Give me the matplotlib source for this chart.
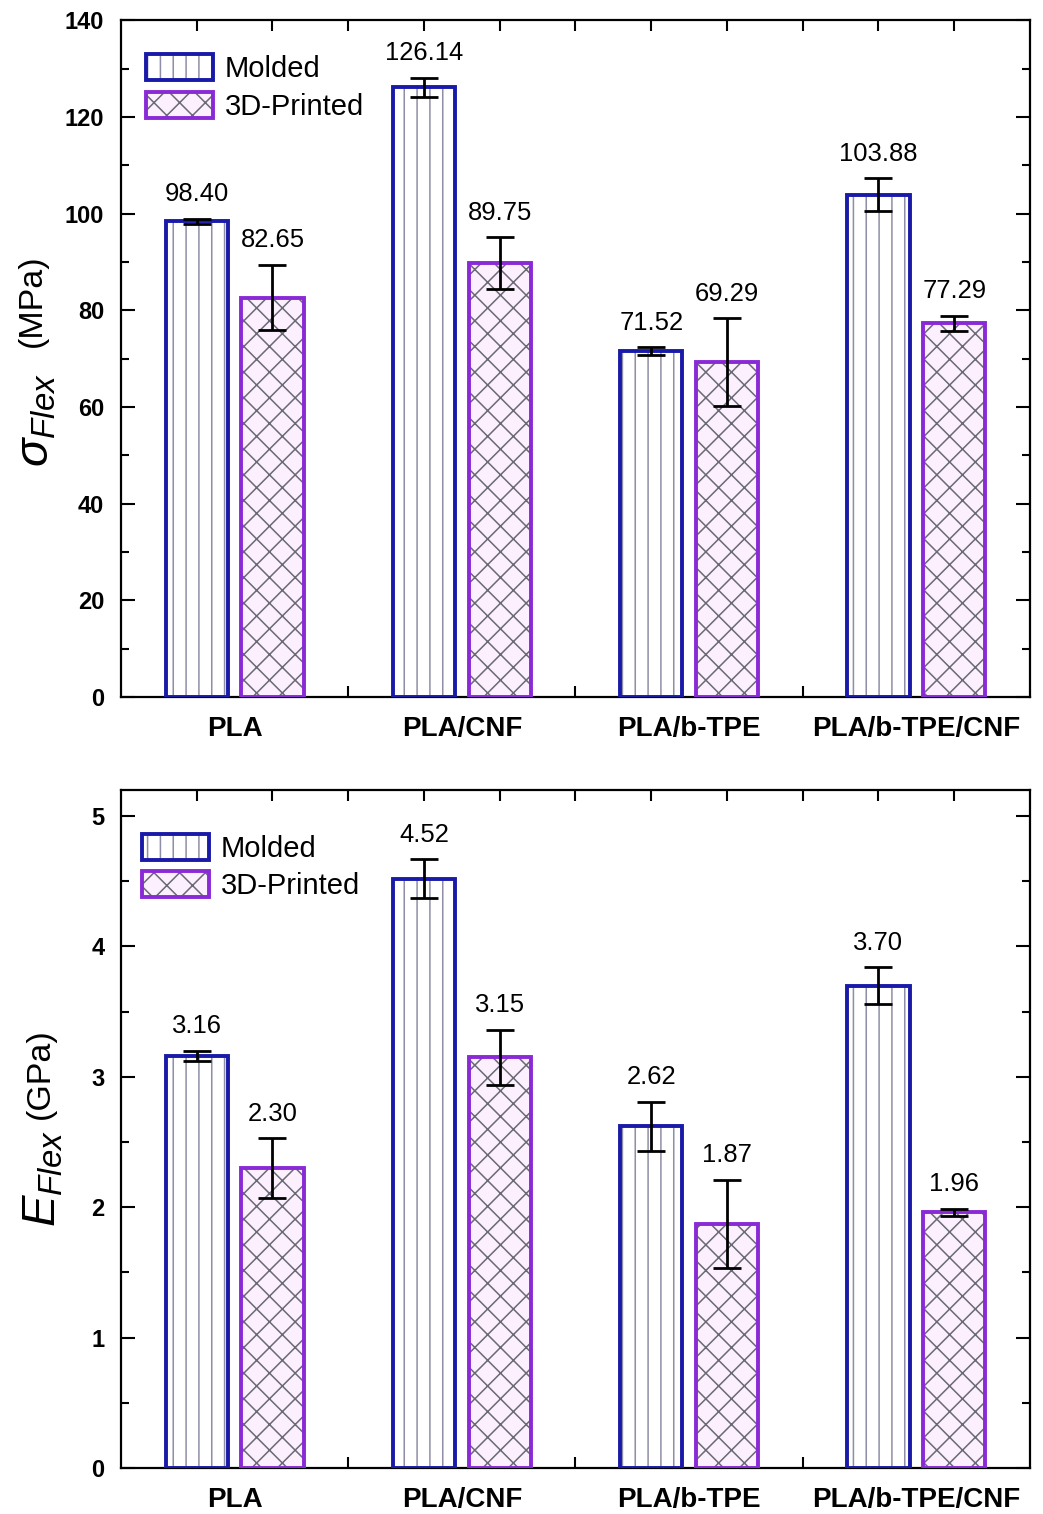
import matplotlib.pyplot as plt
from matplotlib.patches import Patch
from matplotlib.ticker import MultipleLocator, FixedLocator
from matplotlib.legend_handler import HandlerTuple

# low dpi so the hatch spacing (6 lines/inch) gets as tight as in the original;
# every size in points is scaled by k to keep pixel sizes
DPI = 77
k = 100 / DPI

plt.rcParams['font.family'] = ['Liberation Sans', 'DejaVu Sans']
plt.rcParams['mathtext.fontset'] = 'custom'
plt.rcParams['mathtext.rm'] = 'Liberation Sans'
plt.rcParams['mathtext.it'] = 'Liberation Sans:italic'
plt.rcParams['hatch.linewidth'] = 1.1 * k

materials = ['PLA', 'PLA/CNF', 'PLA/b-TPE', 'PLA/b-TPE/CNF']
series = ['Molded', '3D-Printed']

strength_molded = [98.40, 126.14, 71.52, 103.88]
strength_molded_err = [0.5, 2.0, 0.8, 3.4]
strength_printed = [82.65, 89.75, 69.29, 77.29]
strength_printed_err = [6.8, 5.4, 9.1, 1.6]

modulus_molded = [3.16, 4.52, 2.62, 3.70]
modulus_molded_err = [0.04, 0.15, 0.19, 0.14]
modulus_printed = [2.30, 3.15, 1.87, 1.96]
modulus_printed_err = [0.23, 0.21, 0.34, 0.03]

blue = '#1a1aa8'
purple = '#8a2ad6'
pink = '#fcf0ff'
grey_v = '#8e8ea6'
grey_x = '#6a6a74'

x_mold = [3 * i for i in range(len(materials))]
x_print = [3 * i + 1 for i in range(len(materials))]
x_lab = [3 * i + 0.5 for i in range(len(materials))]
w = 0.82


def draw(ax, molded, merr, printed, perr, ymax, major, minor, lab1, lab2,
         lx, ly1, ly2, anchor):
    # hatch layer, then outline on top
    ax.bar(x_mold, molded, w, color='white', edgecolor=grey_v, hatch='|', lw=0, zorder=2)
    ax.bar(x_mold, molded, w, fill=False, edgecolor=blue, lw=2.8 * k, zorder=3)
    ax.bar(x_print, printed, w, color=pink, edgecolor=grey_x, hatch='x', lw=0, zorder=2)
    ax.bar(x_print, printed, w, fill=False, edgecolor=purple, lw=2.8 * k, zorder=3)
    for xs, vals, errs in [(x_mold, molded, merr), (x_print, printed, perr)]:
        ax.errorbar(xs, vals, yerr=errs, fmt='none', ecolor='black', elinewidth=2.0 * k,
                    capsize=10 * k, capthick=2.0 * k, zorder=4)
        for x, v, e in zip(xs, vals, errs):
            ax.annotate(f'{v:.2f}', (x, v + e), xytext=(0, 9 * k), textcoords='offset points',
                        ha='center', va='bottom', fontsize=18.5 * k)

    ax.set_xlim(-1, 11)
    ax.set_ylim(0, ymax)
    ax.set_xticks(x_lab)
    ax.set_xticklabels(materials, fontsize=20 * k, fontweight='bold')
    ax.xaxis.set_minor_locator(FixedLocator(list(range(0, 11))))
    ax.tick_params(axis='x', which='major', length=0, pad=14 * k)
    ax.tick_params(axis='x', which='minor', direction='in', length=8 * k, width=1.5 * k,
                   top=True, bottom=True)
    ax.yaxis.set_major_locator(MultipleLocator(major))
    ax.yaxis.set_minor_locator(MultipleLocator(minor))
    ax.tick_params(axis='y', which='major', direction='in', length=10 * k, width=1.5 * k,
                   left=True, right=True, labelsize=17 * k, pad=12 * k)
    ax.tick_params(axis='y', which='minor', direction='in', length=6 * k, width=1.5 * k,
                   left=True, right=True)
    for t in ax.get_yticklabels():
        t.set_fontweight('bold')
    for s in ax.spines.values():
        s.set_linewidth(1.6 * k)

    # y label in two pieces: symbol with subscript, then the unit
    ax.text(lx + 0.004, ly1, lab1, rotation=90, ha='center', va='center',
            fontsize=34 * k, transform=ax.transAxes)
    ax.text(lx, ly2, lab2, rotation=90, ha='center', va='center',
            fontsize=24.5 * k, transform=ax.transAxes)

    h1 = (Patch(facecolor='white', edgecolor=grey_v, hatch='|', lw=0),
          Patch(fill=False, edgecolor=blue, lw=2.8 * k))
    h2 = (Patch(facecolor=pink, edgecolor=grey_x, hatch='x', lw=0),
          Patch(fill=False, edgecolor=purple, lw=2.8 * k))
    ax.legend([h1, h2], series, handler_map={tuple: HandlerTuple(ndivide=1, pad=0)},
              loc='upper left', bbox_to_anchor=anchor, frameon=False, fontsize=21 * k,
              handlelength=2.3, handleheight=1.0, handletextpad=0.4, labelspacing=0.3,
              borderaxespad=0)


fig = plt.figure(figsize=(1043 / DPI, 1514 / DPI), dpi=DPI)
ax1 = fig.add_axes([0.116, 0.5396, 0.8715, 0.447])
ax2 = fig.add_axes([0.116, 0.0304, 0.8715, 0.4478])

draw(ax1, strength_molded, strength_molded_err, strength_printed, strength_printed_err,
     140, 20, 10, r'$\mathit{\sigma}_{\mathit{Flex}}$', '(MPa)',
     -0.097, 0.41, 0.585, (0.015, 0.967))
draw(ax2, modulus_molded, modulus_molded_err, modulus_printed, modulus_printed_err,
     5.2, 1, 0.5, r'$\mathit{E}_{\mathit{Flex}}$', '(GPa)',
     -0.089, 0.427, 0.582, (0.010, 0.953))

fig.savefig('out.png', dpi=DPI)
